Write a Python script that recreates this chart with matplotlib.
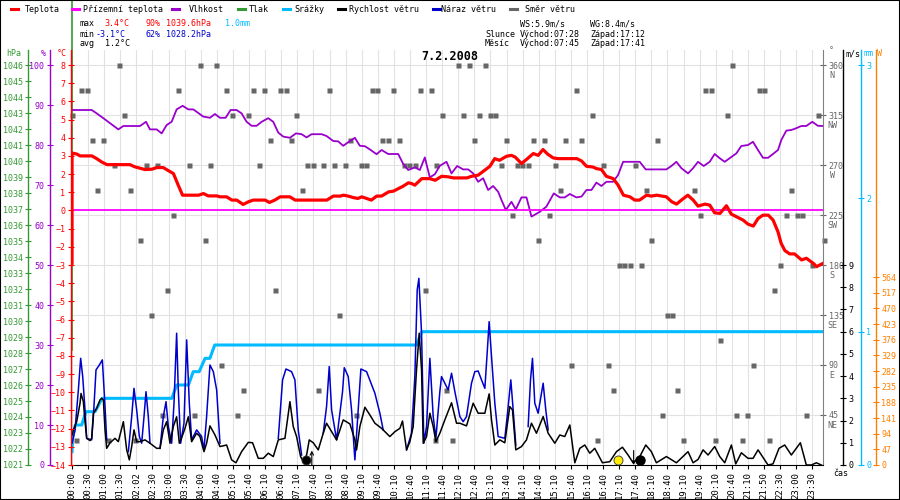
#!/usr/bin/env python3
import numpy as np
import matplotlib
matplotlib.use('Agg')
import matplotlib.pyplot as plt
from matplotlib.lines import Line2D
from matplotlib.patches import Rectangle

# Layout of the 900x500 picture (pixels)
W, H = 900, 500
x0, x1 = 71.5, 823.0     # plot left / right edge
y0, y1 = 465.0, 50.0     # plot bottom / top edge
ytop_tick = 65.0         # pixel row of the top labelled tick on every scale
font = 'DejaVu Sans Mono'
fs = 6.0

# Colours
red = '#ff0000'
magenta = '#ff00ff'
purple = '#9900cc'
green = '#339933'
skyblue = '#00bbff'
navy = '#0000cc'
gray = '#666666'
orange = '#ff8000'

# x axis: position in 10 min records, one label every 3 records
times = ['00:00', '00:30', '01:00', '01:30', '02:02', '02:30', '03:00', '03:30',
         '04:00', '04:40', '05:10', '05:40', '06:10', '06:40', '07:10', '07:40',
         '08:10', '08:40', '09:10', '09:40', '10:10', '10:40', '11:10', '11:40',
         '12:10', '12:40', '13:10', '13:40', '14:10', '14:40', '15:10', '15:40',
         '16:10', '16:40', '17:10', '17:40', '18:10', '18:40', '19:10', '19:40',
         '20:10', '20:40', '21:10', '21:50', '22:30', '23:00', '23:30']

# Teplota (°C)
temp_pos = [0, 0, 0.9, 1.5, 3.7, 4.6, 5.5, 6.5, 10.8, 11.7,
            13.6, 14.9, 15.8, 17.0, 17.9, 18.9, 19.8, 20.6, 23.6, 24.5,
            25.4, 27.0, 27.6, 28.8, 29.8, 30.7, 31.9, 32.9, 33.8, 36.0,
            36.8, 37.8, 38.8, 40.6, 41.6, 47.5, 48.7, 50.0, 50.6, 51.5,
            52.4, 53.3, 54.0, 54.9, 55.8, 56.8, 57.7, 59.0, 59.9, 60.5,
            61.7, 62.7, 63.3, 63.9, 65.2, 66.7, 67.7, 68.9, 70.1, 71.1,
            73.6, 74.5, 75.7, 76.7, 77.9, 78.8, 79.7, 81.0, 81.9, 82.6,
            83.8, 84.7, 86.0, 86.9, 87.8, 88.7, 89.7, 90.6, 94.1, 95.0,
            95.9, 97.1, 97.8, 98.7, 99.6, 100.9, 101.8, 102.8, 104.0, 104.9,
            105.8, 107.1, 108.0, 109.0, 110.8, 111.8, 112.7, 113.6, 114.8, 115.8,
            116.7, 118.0, 118.9, 119.8, 120.8, 122.0, 122.9, 123.9, 125.1, 126.0,
            127.0, 127.9, 128.8, 129.8, 130.7, 131.6, 132.2, 132.9, 133.8, 134.7,
            136.0, 136.9, 138.2, 138.8, 140.0]
temp_val = [-2.9, 3.16, 3.1, 3.0, 3.0, 2.85, 2.67, 2.52, 2.52, 2.4,
            2.25, 2.27, 2.36, 2.36, 2.2, 2.03, 1.39, 0.84, 0.84, 0.93,
            0.8, 0.8, 0.75, 0.75, 0.57, 0.57, 0.33, 0.48, 0.57, 0.57,
            0.44, 0.57, 0.75, 0.75, 0.57, 0.57, 0.79, 0.79, 0.84, 0.79,
            0.71, 0.66, 0.75, 0.66, 0.57, 0.79, 0.79, 1.02, 1.06, 1.15,
            1.33, 1.52, 1.48, 1.39, 1.75, 1.75, 1.66, 1.88, 1.85, 1.79,
            1.79, 1.88, 1.94, 2.16, 2.43, 2.85, 2.76, 2.98, 3.03, 2.94,
            2.58, 2.8, 3.13, 3.03, 3.35, 3.09, 2.89, 2.85, 2.85, 2.72,
            2.43, 2.39, 2.3, 2.25, 1.88, 1.75, 1.39, 0.84, 0.75, 0.57,
            0.57, 0.84, 0.79, 0.84, 0.75, 0.48, 0.35, 0.57, 0.84, 0.57,
            0.24, 0.35, 0.29, -0.13, -0.16, 0.26, -0.2, -0.35, -0.53, -0.75,
            -0.86, -0.44, -0.26, -0.26, -0.53, -1.17, -1.81, -2.21, -2.39, -2.39,
            -2.72, -2.63, -2.91, -3.09, -2.91]

# Přízemní teplota (°C)
feels_pos = [0, 140.0]
feels_val = [0.0, 0.0]

# Vlhkost (%)
hum_pos = [0, 3.67, 4.6, 5.84, 8.63, 9.56, 12.67, 13.79, 14.53, 15.78,
           16.71, 17.64, 18.57, 19.5, 20.62, 21.68, 22.61, 24.47, 25.71, 26.64,
           27.58, 28.63, 29.56, 30.68, 31.61, 32.55, 33.48, 34.41, 35.34, 36.58,
           37.51, 38.45, 39.38, 40.62, 41.74, 42.79, 43.72, 44.66, 46.52, 47.45,
           48.69, 49.62, 50.56, 51.8, 52.73, 53.66, 54.59, 55.52, 56.77, 57.7,
           58.94, 60.81, 61.74, 62.67, 63.91, 64.84, 65.77, 66.7, 67.64, 68.57,
           69.81, 70.74, 71.8, 72.91, 73.85, 74.78, 75.71, 76.64, 77.57, 78.5,
           79.44, 80.06, 80.87, 81.92, 82.73, 83.79, 84.72, 85.65, 87.2, 88.44,
           89.81, 90.93, 91.86, 92.79, 94.03, 94.97, 95.9, 96.83, 97.76, 98.69,
           99.62, 100.86, 101.8, 102.73, 105.83, 106.95, 110.8, 111.73, 112.67, 113.6,
           114.84, 115.77, 116.7, 117.76, 118.88, 119.81, 120.74, 121.67, 122.91, 123.84,
           124.77, 126.02, 126.95, 127.88, 128.81, 129.75, 130.68, 131.61, 132.23, 133.16,
           134.09, 135.02, 135.95, 136.88, 138.0, 139.05, 140.0]
hum_val = [88.75, 88.75, 87.9, 86.7, 83.9, 84.75, 84.75, 85.8, 83.9, 83.9,
           82.9, 85.0, 85.8, 88.9, 89.8, 88.9, 88.9, 87.1, 86.8, 87.75,
           86.8, 86.8, 88.75, 88.75, 87.9, 85.8, 84.8, 84.8, 85.8, 86.7,
           85.8, 83.1, 82.1, 81.8, 82.9, 82.7, 81.9, 82.7, 82.7, 82.25,
           81.0, 80.9, 79.8, 81.0, 81.8, 79.8, 79.7, 78.9, 77.7, 78.75,
           77.75, 77.75, 75.25, 73.75, 74.4, 73.75, 76.9, 71.9, 72.7, 74.8,
           75.8, 72.9, 74.75, 73.9, 73.9, 72.9, 70.8, 71.7, 68.75, 69.75,
           68.3, 66.25, 63.75, 65.8, 63.9, 66.9, 66.9, 62.1, 63.3, 64.6,
           67.9, 66.9, 66.9, 67.75, 66.9, 67.1, 68.75, 68.75, 70.6, 69.75,
           70.8, 70.8, 72.5, 75.8, 75.8, 73.9, 73.9, 74.75, 75.8, 74.2,
           72.9, 74.2, 75.8, 74.75, 75.8, 77.75, 76.7, 75.8, 77.0, 77.9,
           79.75, 80.0, 80.8, 78.75, 76.8, 76.8, 77.75, 78.75, 81.25, 83.6,
           83.75, 84.2, 84.75, 84.75, 85.8, 84.8, 84.75]

# Tlak (hPa)
pres_pos = [0, 0]
pres_val = [1028.2, 1050.0]

# Srážky (mm, cumulative)
rain_pos = [0, 0.1, 0.6, 1.8, 2.6, 4.3, 5.6, 18.6, 19.5, 21.7,
            22.6, 23.7, 24.8, 25.7, 26.6, 64.2, 65.2, 140.0]
rain_val = [0.1, 0.2, 0.3, 0.3, 0.4, 0.4, 0.5, 0.5, 0.6, 0.6,
            0.7, 0.7, 0.8, 0.8, 0.9, 0.9, 1.0, 1.0]

# Rychlost větru (m/s)
speed_pos = [0, 0.25, 0.87, 1.49, 1.68, 2.11, 2.42, 2.73, 3.35, 3.66,
             3.98, 4.6, 5.22, 5.53, 5.84, 6.15, 6.46, 7.08, 8.01, 8.63,
             9.57, 10.19, 10.68, 11.12, 11.55, 12.05, 12.67, 13.6, 14.53, 15.78,
             16.4, 17.02, 17.64, 18.26, 18.88, 19.5, 20.0, 20.62, 21.06, 21.68,
             22.3, 23.23, 23.85, 24.6, 25.09, 25.71, 26.65, 27.58, 28.82, 29.75,
             30.56, 31.61, 32.86, 33.66, 34.72, 35.65, 36.58, 37.52, 38.45, 39.69,
             40.62, 41.24, 41.86, 42.61, 43.11, 43.73, 44.22, 44.97, 45.9, 46.83,
             47.45, 48.39, 49.32, 50.56, 51.8, 52.73, 53.04, 53.66, 54.6, 55.53,
             56.46, 57.7, 59.25, 60.19, 61.12, 61.61, 62.36, 62.98, 63.6, 64.22,
             64.72, 65.16, 65.47, 66.09, 66.71, 67.33, 67.83, 68.57, 69.5, 70.75,
             71.68, 72.3, 73.54, 74.78, 75.71, 76.96, 77.76, 78.2, 78.82, 79.75,
             80.68, 81.61, 82.11, 82.73, 83.79, 84.72, 85.65, 86.58, 87.83, 88.76,
             90.0, 90.93, 91.86, 92.8, 93.73, 94.66, 95.59, 96.52, 97.45, 98.88,
             100.25, 101.49, 102.61, 103.66, 104.6, 105.84, 106.96, 108.01, 108.94, 110.81,
             112.67, 114.84, 115.78, 116.71, 117.64, 118.57, 119.81, 120.75, 121.68, 122.92,
             123.73, 124.78, 126.02, 126.96, 127.89, 129.75, 130.68, 131.8, 132.86, 134.1,
             135.78, 136.89, 137.83, 138.76, 139.69]
speed_val = [1.35, 1.58, 1.95, 2.78, 3.22, 2.85, 1.95, 1.2, 1.1, 1.2,
             2.33, 2.55, 2.93, 3.0, 2.93, 1.58, 0.75, 1.0, 1.2, 1.05,
             1.95, 0.68, 0.23, 0.83, 1.58, 1.05, 1.05, 1.13, 0.98, 0.75,
             0.75, 1.58, 1.95, 0.98, 1.73, 2.17, 0.98, 1.35, 1.65, 2.17,
             1.05, 1.43, 1.28, 0.6, 0.98, 1.76, 1.35, 0.83, 0.9, 0.23,
             0.1, 0.6, 1.02, 1.0, 0.3, 0.3, 0.53, 0.38, 1.13, 1.2,
             2.85, 1.73, 1.28, 0.38, 0.15, 0.45, 1.13, 1.0, 0.68, 1.43,
             1.88, 1.5, 1.13, 2.03, 1.85, 1.13, 0.68, 1.73, 2.6, 2.25,
             1.88, 1.65, 1.28, 1.5, 1.65, 1.98, 0.68, 1.05, 1.73, 4.28,
             5.93, 4.28, 0.98, 1.28, 2.33, 1.73, 1.05, 1.43, 2.03, 2.8,
             1.88, 1.88, 1.76, 2.78, 2.33, 2.33, 3.2, 2.03, 0.9, 1.13,
             1.0, 2.63, 2.48, 0.68, 0.83, 1.13, 1.88, 1.43, 2.18, 1.43,
             0.98, 1.35, 1.28, 1.8, 0.1, 0.75, 0.9, 0.53, 0.75, 0.1,
             0.15, 0.6, 0.8, 0.45, 0.1, 0.38, 0.9, 0.6, 0.1, 0.38,
             0.1, 0.6, 0.1, 0.25, 0.68, 0.45, 0.83, 0.38, 0.1, 0.9,
             0.05, 0.55, 0.3, 0.3, 0.68, 0.0, 0.05, 0.75, 0.9, 0.45,
             1.0, 0.0, 0.0, 0.1, 0.0]

# Náraz větru (m/s); nan where the gust line lies under the speed line
nan = np.nan
gust_pos = [0, 0.56, 1.18, 1.61, 1.99, 2.42, 2.73, 3.66, 3.98, 4.47,
            5.09, 5.65, 6.15, 6.46, 8.0,
            10.5, 11.12, 11.55, 12.05, 12.55, 12.98, 13.42, 13.79, 14.22, 14.53, 15.5,
            16.4, 17.02, 17.52, 17.95, 18.57, 19.01, 19.5, 19.81, 20.25, 20.87,
            21.37, 21.86, 22.3, 23.23, 24.16, 24.6, 25.09, 25.71, 26.34, 26.96,
            27.58, 30.0,
            38.45, 39.25, 39.88, 40.93, 41.55, 42.17, 42.8, 45.0,
            46.83, 47.45, 47.95, 48.39, 49.32, 50.43, 50.75, 51.49, 52.11, 52.73,
            53.35, 53.85, 54.91, 56.46, 57.39, 58.01, 60.0,
            62.36, 63.29, 63.91, 64.35, 64.66, 65.16, 65.59, 66.09, 66.71, 67.33,
            67.83, 68.57, 68.88, 69.5, 70.12, 70.75, 71.37, 72.3, 72.92, 73.54,
            74.47, 75.09, 75.71, 76.34, 76.96, 77.39, 77.76, 78.2, 78.82, 79.44,
            80.68, 81.12, 81.8, 82.24, 82.73, 84.0,
            85.03, 85.47, 85.84, 86.27, 86.89, 87.83, 88.32, 88.76]
gust_val = [0.98, 1.58, 3.38, 4.8, 3.98, 2.48, 1.2, 1.13, 2.18, 4.28,
            4.5, 4.73, 2.63, 1.13, nan,
            0.6, 2.18, 3.45, 2.48, 1.28, 0.98, 2.18, 3.3, 2.18, 0.98, nan,
            0.75, 2.18, 2.85, 1.73, 0.98, 2.78, 5.93, 3.38, 0.98, 1.88,
            5.63, 2.78, 1.13, 1.58, 1.28, 0.68, 2.18, 4.5, 4.2, 3.38,
            0.98, nan,
            1.2, 3.83, 4.32, 4.2, 3.83, 1.58, 0.45, nan,
            1.43, 2.63, 4.43, 2.48, 1.13, 3.3, 4.38, 3.98, 2.48, 0.23,
            2.48, 4.32, 4.2, 3.23, 2.33, 1.58, nan,
            0.68, 1.43, 3.98, 7.88, 8.4, 5.93, 0.98, 1.73, 4.8, 2.18,
            1.2, 3.3, 3.98, 3.68, 3.38, 4.13, 3.3, 2.18, 1.95, 2.18,
            3.68, 4.2, 4.23, 3.83, 3.45, 5.03, 6.45, 4.88, 2.78, 1.28,
            1.2, 2.18, 3.83, 2.48, 0.9, nan,
            1.73, 3.83, 4.8, 2.78, 2.33, 3.68, 2.48, 1.58]

# Směr větru (°)
dir_pos = [0, 0.75, 1.68, 2.85, 3.73, 4.66, 5.78, 6.76, 7.83, 8.76,
           9.69, 10.81, 11.74, 12.67, 13.79, 14.66, 15.78, 16.71, 17.64, 18.76,
           19.75, 21.8, 22.73, 23.85, 24.73, 25.71, 26.78, 27.76, 28.69, 29.81,
           30.69, 31.81, 32.79, 33.73, 34.84, 35.72, 36.89, 37.82, 38.76, 39.87,
           40.8, 41.74, 42.86, 43.79, 44.85, 45.78, 46.77, 47.83, 48.82, 49.69,
           50.87, 51.8, 52.86, 53.85, 54.78, 55.9, 56.83, 57.76, 58.88, 59.81,
           60.93, 61.86, 62.79, 63.91, 64.84, 65.77, 66.83, 67.7, 67.82, 68.94,
           69.81, 70.8, 71.92, 72.85, 73.97, 74.9, 75.83, 76.95, 77.88, 78.81,
           79.93, 80.87, 81.98, 82.91, 83.85, 84.96, 85.9, 86.83, 87.94, 88.88,
           90.0, 90.93, 91.86, 92.98, 93.91, 94.84, 96.89, 97.95, 98.94, 99.87,
           100.93, 101.92, 102.85, 103.97, 104.9, 106.02, 106.95, 107.88, 109.0, 109.93,
           110.99, 111.93, 112.86, 113.97, 115.89, 117.01, 117.94, 119.06, 119.93, 120.87,
           122.04, 122.98, 123.85, 124.89, 125.9, 127.02, 128.0, 128.94, 130.0, 130.93,
           131.92, 133.04, 133.97, 135.09, 136.02, 136.9, 138.01, 139.0, 140.12]
dir_val = [315, 22.5, 337.5, 337.5, 292.5, 247.5, 292.5, 22.5, 270, 360,
           315, 247.5, 22.5, 202.5, 270, 135, 270, 45, 157.5, 225,
           337.5, 270, 45, 360, 202.5, 270, 360, 90, 337.5, 315,
           45, 67.5, 315, 337.5, 270, 337.5, 292.5, 157.5, 337.5, 337.5,
           292.5, 315, 247.5, 270, 270, 67.5, 270, 337.5, 270, 135,
           270, 292.5, 45, 270, 270, 337.5, 337.5, 292.5, 292.5, 337.5,
           292.5, 270, 270, 270, 337.5, 157.5, 337.5, 22.5, 270, 315,
           67.5, 22.5, 360, 315, 360, 292.5, 315, 360, 315, 315,
           270, 292.5, 225, 270, 270, 270, 292.5, 202.5, 292.5, 225,
           270, 247.5, 292.5, 90, 337.5, 292.5, 315, 22.5, 270, 90,
           67.5, 180, 180, 180, 270, 180, 247.5, 202.5, 292.5, 45,
           135, 135, 67.5, 22.5, 247.5, 225, 337.5, 337.5, 22.5, 112.5,
           315, 360, 45, 22.5, 45, 90, 337.5, 337.5, 22.5, 157.5,
           180, 225, 247.5, 225, 225, 45, 180, 315, 202.5]

# Sun and moon events
sun_pos = [43.6, 101.8]          # východ 07:28, západ 17:12
sun_col = ['black', '#ffee00']
moon_pos = [44.7, 104.7]         # východ 07:45, západ 17:41
moon_dir = [1, -1]
newmoon_pos = [105.8]

# Scales
dir_ticks = [45, 90, 135, 180, 225, 270, 315, 360]
dir_names = ['NE', 'E', 'SE', 'S', 'SW', 'W', 'NW', 'N']
power_ticks = [0, 47, 94, 141, 188, 235, 282, 329, 376, 423, 470, 517, 564]


def span(lo, hi):
    # lo sits on the bottom edge, hi on the top labelled tick row
    return lo, hi + (hi - lo) * (ytop_tick - y1) / (y0 - ytop_tick)


def frac(px):
    return (px - x0) / (x1 - x0)


def make_twin(ax, lo, hi, color, pos, side, ticks):
    a = ax.twinx()
    a.set_ylim(*span(lo, hi))
    for s in a.spines.values():
        s.set_visible(False)
    sp = a.spines[side]
    sp.set_visible(True)
    sp.set_color(color)
    sp.set_linewidth(1.0)
    sp.set_position(('axes', frac(pos)))
    if side == 'left':
        a.yaxis.tick_left()
    else:
        a.yaxis.tick_right()
    a.set_yticks(ticks)
    a.tick_params(axis='y', colors=color, direction='inout', length=5,
                  width=0.8, pad=1.5, labelsize=fs)
    return a


def ftext(fig, px, py, s, **kw):
    kw.setdefault('va', 'center')
    kw.setdefault('ha', 'left')
    kw.setdefault('fontsize', fs)
    fig.text(px / W, 1 - py / H, s, **kw)


def header(fig):
    legend = [(11, 25, 'Teplota', red), (72, 83, 'Přízemní teplota', magenta),
              (172, 189, 'Vlhkost', purple), (238, 249, 'Tlak', green),
              (283, 294, 'Srážky', skyblue), (338, 349, 'Rychlost větru', 'black'),
              (433, 441, 'Náraz větru', navy), (510, 525, 'Směr větru', gray)]
    for lx, tx, name, c in legend:
        fig.add_artist(Line2D([lx / W, (lx + 7) / W], [1 - 9 / H, 1 - 9 / H],
                              color=c, lw=2.2, transform=fig.transFigure))
        ftext(fig, tx, 9, name)

    rows = [(79, 24, 'max', 'black'), (104, 24, '3.4°C', red), (145, 24, '90%', red),
            (166, 24, '1039.6hPa', red), (225, 24, '1.0mm', skyblue),
            (79, 34, 'min', 'black'), (96, 34, '-3.1°C', navy), (145, 34, '62%', navy),
            (166, 34, '1028.2hPa', navy),
            (79, 44, 'avg', 'black'), (105, 44, '1.2°C', 'black'),
            (520, 24, 'WS:5.9m/s', 'black'), (590, 24, 'WG:8.4m/s', 'black'),
            (485, 34, 'Slunce', 'black'), (520, 34, 'Východ:07:28', 'black'),
            (590, 34, 'Západ:17:12', 'black'),
            (485, 44, 'Měsíc', 'black'), (520, 44, 'Východ:07:45', 'black'),
            (590, 44, 'Západ:17:41', 'black')]
    for px, py, s, c in rows:
        ftext(fig, px, py, s, color=c)

    ftext(fig, 450, 57, '7.2.2008', ha='center', fontsize=8.5, fontweight='bold')

    # unit captions above the scales
    ftext(fig, 14, 54, 'hPa', color=green, ha='center')
    ftext(fig, 43, 54, '%', color=purple, ha='center')
    ftext(fig, 67, 54, '°C', color=red, ha='right')
    ftext(fig, 829, 51, '°', color=gray)
    ftext(fig, 845, 54, 'm/s', color='black')
    ftext(fig, 863, 54, 'mm', color=skyblue)
    ftext(fig, 877, 54, 'W', color=orange)
    ftext(fig, 833, 474, 'čas', color='black')


def main():
    plt.rcParams['font.family'] = font
    plt.rcParams['font.size'] = fs

    fig = plt.figure(figsize=(W / 100, H / 100), dpi=100)
    ax = fig.add_axes((x0 / W, 1 - y0 / H, (x1 - x0) / W, (y0 - y1) / H))
    ax.set_xlim(-0.1, 140.0)
    ax.set_ylim(*span(0, 360))

    # scales (created in drawing order)
    a_s = make_twin(ax, 0, 1200, orange, 875.7, 'right', power_ticks)
    a_r = make_twin(ax, 0, 3, skyblue, 860.7, 'right', [0, 1, 2, 3])
    a_w = make_twin(ax, 0, 18, 'black', 843.3, 'right', list(range(10)))
    a_p = make_twin(ax, 1021, 1046, green, 28.3, 'left', list(range(1021, 1047)))
    a_h = make_twin(ax, 0, 100, purple, 50.0, 'left', list(range(0, 101, 10)))
    a_t = make_twin(ax, -14, 8, red, 71.0, 'left', list(range(-14, 9)))

    # direction scale and grid on the base axes
    ax.yaxis.tick_right()
    ax.set_yticks(dir_ticks)
    ax.tick_params(axis='y', colors=gray, direction='inout', length=5,
                   width=0.8, pad=1.5, labelsize=fs)
    ax.set_xticks(np.arange(len(times)) * 3)
    ax.set_xticklabels(times)
    ax.tick_params(axis='x', direction='out', length=3, width=0.8, pad=2,
                   labelsize=6.5, labelrotation=90)
    ax.grid(True, color='#e2e2e2', lw=0.8)
    ax.set_axisbelow(True)
    for s in ('top', 'left'):
        ax.spines[s].set_visible(False)
    ax.spines['right'].set_color('#808080')
    ax.spines['bottom'].set_color('black')
    for d, name in zip(dir_ticks, dir_names):
        ax.text(frac(832), d - 9, name, transform=ax.get_yaxis_transform(),
                color=gray, ha='center', va='center', fontsize=fs)

    ax.plot(dir_pos, dir_val, 's', color=gray, ms=3.6, mec='none', clip_on=False)

    a_r.plot(rain_pos, rain_val, color=skyblue, lw=2.2)

    a_w.plot(gust_pos, gust_val, color=navy, lw=1.1)
    a_w.plot(speed_pos, speed_val, color='black', lw=1.1)
    for p, c in zip(sun_pos, sun_col):
        a_w.plot([p], [0.22], 'o', color=c, mec='#333333', mew=0.6, ms=6.5)
    for p, d in zip(moon_pos, moon_dir):
        a, b = (0.0, 0.65) if d > 0 else (0.65, 0.0)
        a_w.annotate('', xy=(p, b), xytext=(p, a),
                     arrowprops=dict(arrowstyle='->', lw=0.8, color='black',
                                     shrinkA=0, shrinkB=0))
    a_w.plot(newmoon_pos, [0.22] * len(newmoon_pos), 'o', color='black', ms=6.5)

    a_p.plot(pres_pos, pres_val, color=green, lw=1.2, clip_on=False)
    a_h.plot(hum_pos, hum_val, color=purple, lw=1.3)
    a_t.plot(feels_pos, feels_val, color=magenta, lw=1.3)
    a_t.plot(temp_pos, temp_val, color=red, lw=2.3)

    header(fig)
    fig.add_artist(Rectangle((0, 0), 1, 1, transform=fig.transFigure,
                             fill=False, ec='black', lw=1.5))

    fig.savefig('out.png', dpi=100)


if __name__ == '__main__':
    main()
